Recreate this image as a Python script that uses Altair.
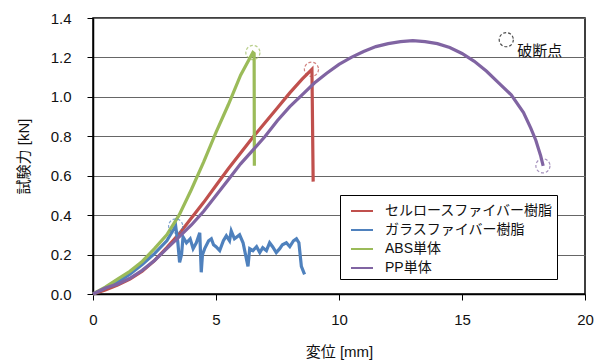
import altair as alt
import pandas as pd

FONT = "Liberation Sans, Noto Sans CJK JP"

series_names = ["セルロースファイバー樹脂", "ガラスファイバー樹脂", "ABS単体", "PP単体"]
series_colors = ["#C0504D", "#4F81BD", "#9BBB59", "#8064A2"]

# セルロースファイバー樹脂
cel_x = [0, 0.5, 1.0, 1.5, 2.0, 2.5, 3.0, 3.5, 4.0, 4.5, 5.0, 5.5, 6.0, 6.5, 7.0, 7.5, 8.0, 8.5, 8.9, 8.95]
cel_y = [0, 0.02, 0.045, 0.075, 0.115, 0.17, 0.235, 0.305, 0.385, 0.465, 0.55, 0.635, 0.715, 0.795, 0.87, 0.945, 1.02, 1.09, 1.14, 0.57]

# ガラスファイバー樹脂
gla_x = [0, 0.5, 1.0, 1.5, 2.0, 2.5, 3.0, 3.36, 3.45, 3.52, 3.6, 3.66, 3.8, 3.95, 4.07, 4.2, 4.34, 4.4, 4.45, 4.54,
         4.7, 4.81, 4.9, 5.0, 5.15, 5.3, 5.42, 5.55, 5.62, 5.75, 5.96, 6.1, 6.2, 6.3, 6.37, 6.5, 6.65, 6.78,
         6.9, 7.05, 7.18, 7.3, 7.45, 7.59, 7.7, 7.86, 8.0, 8.15, 8.27, 8.37, 8.47, 8.6]
gla_y = [0, 0.03, 0.06, 0.1, 0.15, 0.205, 0.27, 0.345, 0.26, 0.16, 0.2, 0.29, 0.26, 0.28, 0.23, 0.26, 0.31, 0.11, 0.2, 0.23,
         0.27, 0.28, 0.25, 0.24, 0.22, 0.27, 0.295, 0.27, 0.32, 0.28, 0.3, 0.26, 0.2, 0.14, 0.23, 0.22, 0.24, 0.21,
         0.235, 0.22, 0.26, 0.24, 0.21, 0.23, 0.25, 0.26, 0.24, 0.27, 0.28, 0.26, 0.14, 0.1]

# ABS単体
abs_x = [0, 0.5, 1.0, 1.5, 2.0, 2.5, 3.0, 3.5, 4.0, 4.5, 5.0, 5.5, 6.0, 6.5, 6.55, 6.56]
abs_y = [0, 0.035, 0.075, 0.115, 0.165, 0.23, 0.3, 0.4, 0.53, 0.67, 0.82, 0.96, 1.11, 1.225, 1.22, 0.65]

# PP単体
pp_x = [0, 0.5, 1.0, 1.5, 2.0, 2.5, 3.0, 3.5, 4.0, 4.5, 5.0, 5.5, 6.0, 6.5, 7.0, 7.5, 8.0, 8.5, 9.0, 9.5,
        10.0, 10.5, 11.0, 11.5, 12.0, 12.5, 13.0, 13.5, 14.0, 14.5, 15.0, 15.5, 16.0, 16.5, 17.0, 17.5, 17.8,
        18.0, 18.2, 18.3]
pp_y = [0, 0.03, 0.05, 0.08, 0.12, 0.17, 0.23, 0.29, 0.35, 0.42, 0.5, 0.58, 0.66, 0.73, 0.8, 0.88, 0.95, 1.01, 1.07, 1.12,
        1.165, 1.2, 1.23, 1.255, 1.27, 1.28, 1.285, 1.28, 1.27, 1.25, 1.22, 1.18, 1.13, 1.07, 1.01, 0.92, 0.84,
        0.78, 0.7, 0.65]

# 破断点 (break points)
break_x = [8.88, 3.36, 6.5, 18.29]
break_y = [1.14, 0.345, 1.225, 0.65]

# annotation marker
note_x = [16.8]
note_y = [1.29]
note_text = ["破断点"]
note_text_x = [17.25]
note_text_y = [1.235]

x_ticks = [0, 5, 10, 15, 20]
y_ticks = [0, 0.2, 0.4, 0.6, 0.8, 1.0, 1.2, 1.4]

rows = []
for name, xs, ys in zip(series_names, [cel_x, gla_x, abs_x, pp_x], [cel_y, gla_y, abs_y, pp_y]):
    for i, (x, y) in enumerate(zip(xs, ys)):
        rows.append({"series": name, "x": x, "y": y, "i": i})
df = pd.DataFrame(rows)
brk = pd.DataFrame({"series": series_names, "x": break_x, "y": break_y})
note = pd.DataFrame({"x": note_x, "y": note_y})
note_t = pd.DataFrame({"x": note_text_x, "y": note_text_y, "t": note_text})

xscale = alt.Scale(domain=[0, 20], nice=False)
yscale = alt.Scale(domain=[0, 1.4], nice=False)
cscale = alt.Scale(domain=series_names, range=series_colors)

xaxis = alt.Axis(title="変位 [mm]", values=x_ticks, grid=False, tickSize=6, labelFlush=False,
                 labelOverlap=False, labelPadding=12, titlePadding=17)
yaxis = alt.Axis(title="試験力 [kN]", values=y_ticks, format=".1f", labelOverlap=False,
                 grid=True, tickSize=6, labelPadding=16, titlePadding=19)

X = alt.X("x:Q", scale=xscale, axis=xaxis)
Y = alt.Y("y:Q", scale=yscale, axis=yaxis)

lines = alt.Chart(df).mark_line(strokeWidth=3.2, interpolate="linear").encode(
    x=X,
    y=Y,
    color=alt.Color("series:N", scale=cscale, sort=series_names,
                    legend=alt.Legend(title=None, orient="none", legendX=247, legendY=177,
                                      symbolType="stroke", symbolSize=484, symbolStrokeWidth=2,
                                      labelFontSize=14, labelFont=FONT, labelColor="#111",
                                      labelLimit=400, labelOffset=11, padding=4, symbolOffset=6,
                                      strokeColor="black", fillColor="white", rowPadding=0)),
    detail="series:N",
    order="i:Q",
)

circles = alt.Chart(brk).mark_point(shape="circle", filled=False, size=200, strokeWidth=1.2,
                                   strokeDash=[3, 2]).encode(
    x=X,
    y=Y,
    color=alt.Color("series:N", scale=cscale, legend=None),
)

note_c = alt.Chart(note).mark_point(shape="circle", filled=False, size=200, strokeWidth=1.2,
                                    strokeDash=[3, 2], color="black").encode(
    x=X,
    y=Y,
)
note_l = alt.Chart(note_t).mark_text(align="left", baseline="middle", fontSize=15, font=FONT,
                                     color="#111").encode(
    x=X,
    y=Y,
    text="t:N",
)

chart = alt.layer(lines, circles, note_c, note_l).properties(
    width=492, height=276,
    autosize=alt.AutoSizeParams(type="none"),
    padding={"left": 85, "top": 10, "right": 14, "bottom": 69},
    background="white",
).configure_view(stroke="black", strokeWidth=1.5).configure_axis(
    labelFont=FONT, titleFont=FONT, labelFontSize=15, titleFontSize=15,
    labelColor="#111", titleColor="#111", titleFontWeight="normal",
    domainColor="black", tickColor="black", gridColor="#666", gridWidth=1,
    domainWidth=1.5,
)

chart.save("out.html", embed_options={"renderer": "svg", "actions": False})
